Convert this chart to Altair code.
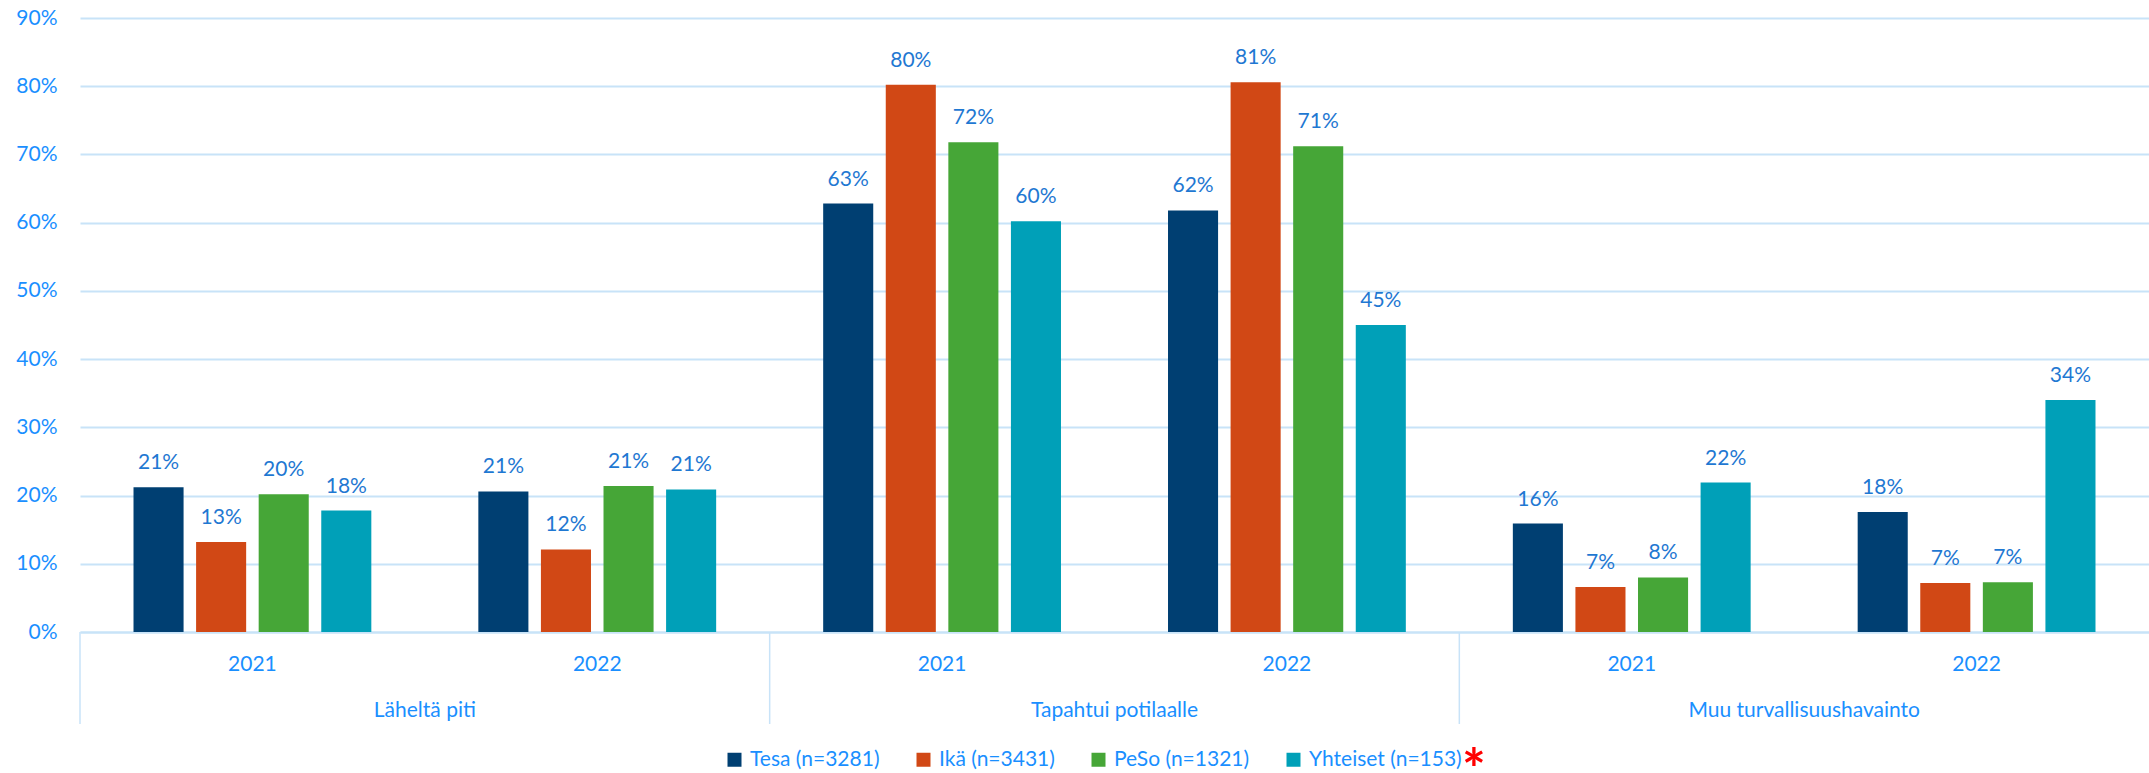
import altair as alt
import pandas as pd

categories = ["Läheltä piti", "Tapahtui potilaalle", "Muu turvallisuushavainto"]
years = ["2021", "2022"]
series = ["Tesa (n=3281)", "Ikä (n=3431)", "PeSo (n=1321)", "Yhteiset (n=153)"]
colors = ["#003F72", "#D14815", "#46A637", "#00A0B8"]

# values in order: (cat1,2021),(cat1,2022),(cat2,2021),(cat2,2022),(cat3,2021),(cat3,2022)
tesa = [0.212, 0.206, 0.628, 0.618, 0.159, 0.176]
ika = [0.132, 0.121, 0.802, 0.806, 0.066, 0.072]
peso = [0.202, 0.214, 0.718, 0.712, 0.080, 0.073]
yhteiset = [0.178, 0.209, 0.602, 0.450, 0.219, 0.340]
y_ticks = [0.0, 0.1, 0.2, 0.3, 0.4, 0.5, 0.6, 0.7, 0.8, 0.9]

FONT = "Lato"
FS = 21
AXIS_BLUE = "#1A8FFF"
VALUE_BLUE = "#1F78D2"
GRID = "#C8E3F8"

keys = [f"{c}|{y}" for c in categories for y in years]
rows = []
for s, vals in zip(series, [tesa, ika, peso, yhteiset]):
    for k, v in zip(keys, vals):
        rows.append({"key": k, "series": s, "value": v})
df = pd.DataFrame(rows)

cat_df = pd.DataFrame({"key": [f"{c}|2022" for c in categories], "label": categories})
sep_df = pd.DataFrame({"key": [f"{c}|2021" for c in categories]})
star_df = pd.DataFrame({"t": ["*"]})

W, H = 2069, 614

x_axis = alt.Axis(
    title=None, labelExpr="split(datum.label, '|')[1]", labelAngle=0,
    ticks=False, tickSize=0, domain=True, domainColor=GRID, domainWidth=2,
    grid=False, labelFont=FONT, labelFontSize=FS, labelColor=AXIS_BLUE,
    labelPadding=21,
)
x_scale = alt.Scale(paddingInner=0, paddingOuter=0)
y_axis = alt.Axis(
    values=y_ticks, format=".0%", title=None, domain=False, ticks=False,
    tickSize=0, gridColor=GRID, gridWidth=2, labelFont=FONT,
    labelFontSize=FS, labelColor=AXIS_BLUE, labelPadding=23,
)
y_scale = alt.Scale(domain=[0, 0.9], nice=False)

xoff = alt.XOffset("series:N", sort=series,
                   scale=alt.Scale(paddingInner=0.2, paddingOuter=0.855))

base = alt.Chart(df)
bars = base.mark_bar().encode(
    x=alt.X("key:N", sort=keys, scale=x_scale, axis=x_axis),
    xOffset=xoff,
    y=alt.Y("value:Q", scale=y_scale, axis=y_axis),
    color=alt.Color(
        "series:N", sort=series,
        scale=alt.Scale(domain=series, range=colors),
        legend=alt.Legend(
            title=None, orient="none", legendX=644, legendY=731,
            direction="horizontal", columns=4, symbolType="square",
            symbolSize=196, symbolStrokeWidth=0, labelFont=FONT,
            labelFontSize=FS, labelColor=AXIS_BLUE, columnPadding=33,
            labelOffset=5, labelLimit=500, padding=0,
        ),
    ),
)
labels = base.mark_text(
    baseline="alphabetic", dy=-18, font=FONT, fontSize=FS, color=VALUE_BLUE
).encode(
    x=alt.X("key:N", sort=keys, scale=x_scale, axis=x_axis),
    xOffset=xoff,
    y=alt.Y("value:Q", scale=y_scale, axis=y_axis),
    text=alt.Text("value:Q", format=".0%"),
)
cat_labels = alt.Chart(cat_df).mark_text(
    baseline="alphabetic", font=FONT, fontSize=FS, color=AXIS_BLUE
).encode(
    x=alt.X("key:N", sort=keys, bandPosition=0, scale=x_scale, axis=x_axis),
    y=alt.value(699),
    text="label:N",
)
seps = alt.Chart(sep_df).mark_rule(color=GRID, strokeWidth=1.5).encode(
    x=alt.X("key:N", sort=keys, bandPosition=0, scale=x_scale, axis=x_axis),
    y=alt.value(H),
    y2=alt.value(706),
)
star = alt.Chart(star_df).mark_text(
    align="left", baseline="middle", font=FONT, fontSize=56,
    fontWeight="bold", color="#FF0000"
).encode(x=alt.value(1382), y=alt.value(754), text="t:N")

chart = alt.layer(bars, labels, cat_labels, seps, star).properties(
    width=W, height=H,
    background="white",
    autosize=alt.AutoSizeParams(type="none"),
    padding={"left": 80, "top": 18, "right": 0, "bottom": 141},
).configure_view(stroke=None)

chart.save("out.html", embed_options={"renderer": "svg", "actions": False})
